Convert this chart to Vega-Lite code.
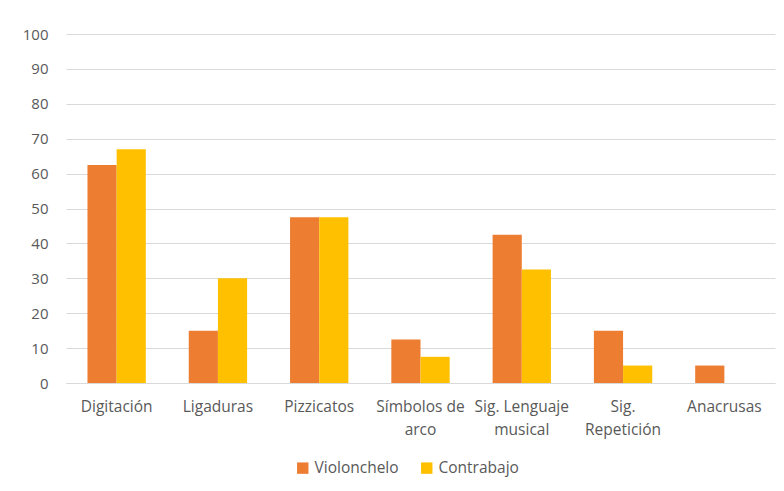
{
  "$schema": "https://vega.github.io/schema/vega-lite/v6.json",
  "width": 709,
  "height": 349,
  "autosize": {"type": "none"},
  "padding": {"left": 66, "top": 34, "right": 9, "bottom": 108},
  "background": "white",
  "data": {
    "values": [
      {"cat": "Digitación", "serie": "Violonchelo", "v": 62.5},
      {"cat": "Digitación", "serie": "Contrabajo", "v": 67},
      {"cat": "Ligaduras", "serie": "Violonchelo", "v": 15},
      {"cat": "Ligaduras", "serie": "Contrabajo", "v": 30},
      {"cat": "Pizzicatos", "serie": "Violonchelo", "v": 47.5},
      {"cat": "Pizzicatos", "serie": "Contrabajo", "v": 47.5},
      {"cat": "Símbolos de arco", "serie": "Violonchelo", "v": 12.5},
      {"cat": "Símbolos de arco", "serie": "Contrabajo", "v": 7.5},
      {"cat": "Sig. Lenguaje musical", "serie": "Violonchelo", "v": 42.5},
      {"cat": "Sig. Lenguaje musical", "serie": "Contrabajo", "v": 32.5},
      {"cat": "Sig. Repetición", "serie": "Violonchelo", "v": 15},
      {"cat": "Sig. Repetición", "serie": "Contrabajo", "v": 5},
      {"cat": "Anacrusas", "serie": "Violonchelo", "v": 5},
      {"cat": "Anacrusas", "serie": "Contrabajo", "v": 0}
    ]
  },
  "mark": {"type": "bar"},
  "encoding": {
    "x": {
      "field": "cat",
      "type": "nominal",
      "sort": null,
      "title": null,
      "scale": {"paddingInner": 0.424, "paddingOuter": 0.212},
      "axis": {
        "labelAngle": 0,
        "ticks": false,
        "domain": true,
        "domainColor": "#d9d9d9",
        "domainWidth": 1,
        "labelFont": "Open Sans",
        "labelFontSize": 15.5,
        "labelColor": "#595959",
        "labelPadding": 16,
        "labelLineHeight": 23,
        "labelLimit": 0,
        "labelExpr": "datum.label == 'Símbolos de arco' ? ['Símbolos de', 'arco'] : datum.label == 'Sig. Lenguaje musical' ? ['Sig. Lenguaje', 'musical'] : datum.label == 'Sig. Repetición' ? ['Sig.', 'Repetición'] : datum.label"
      }
    },
    "xOffset": {"field": "serie", "type": "nominal", "sort": ["Violonchelo", "Contrabajo"], "scale": {"paddingInner": 0, "paddingOuter": 0}},
    "y": {
      "field": "v",
      "type": "quantitative",
      "title": null,
      "scale": {"domain": [0, 100], "nice": false},
      "axis": {
        "values": [0, 10, 20, 30, 40, 50, 60, 70, 80, 90, 100],
        "ticks": false,
        "domain": false,
        "grid": true,
        "gridColor": "#d9d9d9",
        "gridWidth": 1,
        "labelFont": "Open Sans",
        "labelFontSize": 15,
        "labelColor": "#595959",
        "labelPadding": 18
      }
    },
    "color": {
      "field": "serie",
      "type": "nominal",
      "sort": ["Violonchelo", "Contrabajo"],
      "scale": {"domain": ["Violonchelo", "Contrabajo"], "range": ["#ED7D31", "#FFC000"]},
      "legend": {
        "title": null,
        "orient": "none",
        "legendX": 229,
        "legendY": 426,
        "direction": "horizontal",
        "symbolType": "square",
        "symbolSize": 130,
        "symbolStrokeWidth": 0,
        "labelFont": "Open Sans",
        "labelFontSize": 15.5,
        "labelColor": "#595959",
        "columnPadding": 20,
        "labelOffset": 4
      }
    }
  },
  "config": {"view": {"stroke": null}}
}
